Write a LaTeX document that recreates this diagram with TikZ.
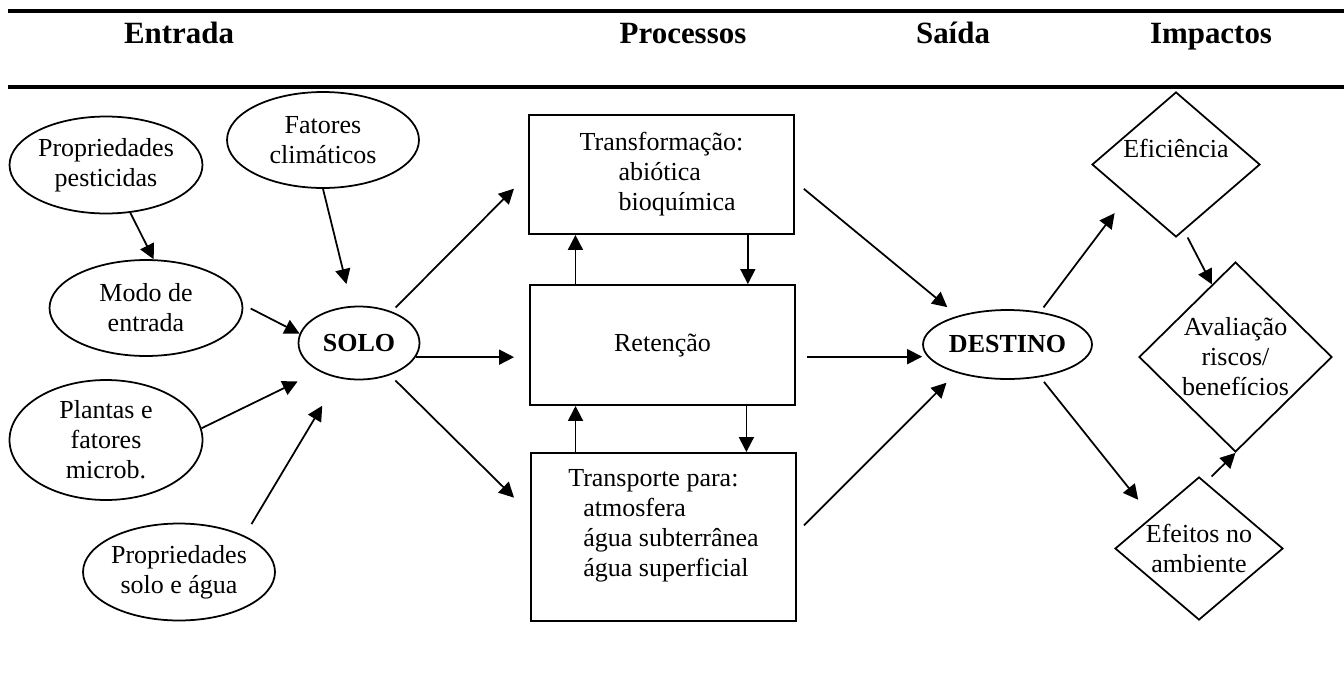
\documentclass[tikz,border=0pt]{standalone}
\usepackage{fontspec}
\setmainfont{Liberation Serif}
\usetikzlibrary{arrows.meta, shapes.geometric, calc, positioning}

\newcommand{\diagfont}{\fontsize{14.8}{17.1}\selectfont}
\tikzset{
    ell/.style={draw, ellipse, line width=1pt, inner sep=0pt, align=center, font=\diagfont},
    procbox/.style={draw, rectangle, line width=1.1pt, inner sep=0pt, align=left, minimum width=5.3cm, font=\diagfont},
    impact/.style={draw, diamond, line width=1pt, inner sep=0pt, align=center, font=\diagfont},
    flow/.style={line width=1pt, -{Triangle[length=0.3cm, width=0.3cm]}},
    rulebar/.style={line width=2.3pt},
    head/.style={font=\fontsize{17.6}{20}\selectfont\bfseries, anchor=base}
}

\begin{document}
\begin{tikzpicture}[x=0.02cm, y=-0.02cm]
                    \useasboundingbox (0, 0) rectangle (1344, 673);
                    \draw[rulebar] (8, 11) -- (1344, 11);
                    \draw[rulebar] (8, 87) -- (1344, 87);
                    \node[head] (hentrada) at (179, 43) {Entrada};
                    \node[head] (hproc) at (683, 43) {Processos};
                    \node[head] (hsaida) at (953, 43) {Saída};
                    \node[head] (himp) at (1211, 43) {Impactos};

                    \node[ell, minimum width=3.86cm, minimum height=1.94cm] (pest) at (106, 165) {Propriedades\\pesticidas};
                    \node[ell, minimum width=3.84cm, minimum height=1.92cm] (fat) at (323, 140) {Fatores\\climáticos};
                    \node[ell, minimum width=3.86cm, minimum height=1.92cm] (modo) at (146, 308) {Modo de\\entrada};
                    \node[ell, minimum width=2.42cm, minimum height=1.46cm, font=\diagfont\bfseries] (solo) at (359, 343) {SOLO};
                    \node[ell, minimum width=3.86cm, minimum height=2.4cm] (plant) at (106, 440) {Plantas e\\fatores\\microb.};
                    \node[ell, minimum width=3.84cm, minimum height=1.94cm] (psolo) at (179, 572) {Propriedades\\solo e água};

                    \node[procbox, minimum height=2.38cm] (trans) at (661.5, 174.5) {Transformação:\\\hspace*{0.78cm}abiótica\\\hspace*{0.78cm}bioquímica};
                    \node[procbox, minimum height=2.4cm, align=center] (ret) at (662.5, 345) {Retenção};
                    \node[procbox, minimum height=3.36cm] (transp) at (663.5, 537) {Transporte para:\\\hspace*{0.3cm}atmosfera\\\hspace*{0.3cm}água subterrânea\\\hspace*{0.3cm}água superficial\rule[-0.56cm]{0pt}{0pt}};

                    \node[ell, minimum width=3.38cm, minimum height=1.38cm, font=\diagfont\bfseries] (destino) at (1007.5, 344.5) {DESTINO};

                    \node[impact, shape aspect=1.16, minimum width=3.36cm, minimum height=2.9cm] (eff) at (1176, 164.5) {\raisebox{0.15cm}[0pt][0pt]{Eficiência}};
                    \node[impact, shape aspect=1.016, minimum width=3.86cm, minimum height=3.8cm] (aval) at (1235.5, 357) {Avaliação\\riscos/\\benefícios};
                    \node[impact, shape aspect=1.175, minimum width=3.36cm, minimum height=2.86cm] (efe) at (1199, 548.5) {Efeitos no\\ambiente};

                    % entrada -> solo
                    \draw[flow] (pest.-63) -- (modo.81);
                    \draw[flow, shorten >=0.45cm] (fat.south) -- (solo.101);
                    \draw[flow, shorten <=0.17cm] (modo.2) -- (solo.171);
                    \draw[flow, shorten >=0.47cm] (plant.7) -- (solo.215);
                    \draw[flow, shorten <=0.27cm, shorten >=0.64cm] (psolo.29) -- (solo.240);

                    % solo -> processos
                    \draw[flow, shorten <=0.11cm, shorten >=0.4cm] (solo.44) -- (trans.west);
                    \draw[flow, shorten >=0.3cm] (solo.-14) -- (solo.-14 -| ret.west);
                    \draw[flow, shorten <=0.15cm, shorten >=0.45cm] (solo.-46) -- (transp.170);
                    \draw[flow] (ret.145) -- (ret.145 |- trans.south);
                    \draw[flow] (trans.-35) -- (trans.-35 |- ret.north);
                    \draw[flow] (transp.136) -- (transp.136 |- ret.south);
                    \draw[flow] (ret.-36) -- (ret.-36 |- transp.north);

                    % processos -> destino -> impactos
                    \draw[flow, shorten <=0.23cm, shorten >=0.27cm] (trans.-3) -- (destino.150);
                    \draw[flow, shorten <=0.22cm] (ret.-5) -- (ret.-5 -| destino.west);
                    \draw[flow, shorten <=0.2cm, shorten >=0.28cm] (transp.2) -- (destino.209);
                    \draw[flow, shorten <=0.11cm, shorten >=0.43cm] (destino.45) -- (eff.213);
                    \draw[flow, shorten <=0.12cm, shorten >=0.43cm] (destino.-45) -- (efe.146);
                    \draw[flow, shorten <=0.15cm] (eff.-83) -- (aval.108);
                    \draw[flow, shorten <=0.16cm] (efe.84) -- (aval.south);
                \end{tikzpicture}
\end{document}
